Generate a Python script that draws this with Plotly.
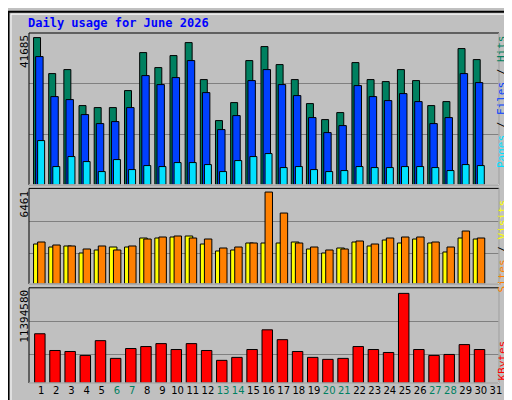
import plotly.graph_objects as go

days = list(range(1, 32))
hits_px = [88,196,184,292,298,298,247,133,178,142,103,214,337,283,157,115,169,214,286,334,313,163,214,220,184,217,292,280,121,154]
files_px = [145,265,274,319,346,340,298,202,229,208,157,253,364,322,217,184,229,262,328,373,352,232,265,277,256,280,346,328,196,223]
pages_px = [397,475,445,460,490,454,484,472,475,463,463,469,490,457,445,436,478,475,484,490,487,475,478,478,475,475,478,487,469,472]
visits_px = [184,193,190,211,202,193,193,166,166,163,160,184,205,202,181,181,181,178,199,211,196,178,190,172,181,169,181,208,166,169]
sites_px = [178,187,190,199,190,202,190,169,163,160,166,169,196,193,181,28,91,181,193,202,199,175,184,166,163,163,178,193,145,166]
kb_px = [451,502,505,517,472,526,496,490,481,499,481,502,532,523,499,439,469,505,523,529,526,490,499,508,328,499,517,514,484,499]

hits = [round((530 - y) / 442 * 41685) for y in hits_px]
files = [round((530 - y) / 442 * 41685) for y in files_px]
pages = [round((530 - y) / 442 * 41685) for y in pages_px]
visits = [round((304 - y) / 276 * 6461) for y in visits_px]
sites = [round((304 - y) / 276 * 6461) for y in sites_px]
kbytes = [round((601 - y) / 273 * 11394580) for y in kb_px]
weekends = {6, 7, 13, 14, 20, 21, 27, 28}

x = [d - 1 for d in days[:30]]
fig = go.Figure()
line = dict(color="black", width=1)

def bar(vals, off, w, color, ya):
    fig.add_bar(x=x, y=vals, offset=off, width=w, marker=dict(color=color, line=line),
                xaxis="x" if ya == "y" else "x" + ya[1:], yaxis=ya, showlegend=False, hoverinfo="skip")

bar(hits, 0.30, 0.46, "#008060", "y")
bar(files, 0.44, 0.49, "#0040FF", "y")
bar(pages, 0.57, 0.46, "#00E0FF", "y")
bar(visits, 0.30, 0.50, "#FFFF00", "y2")
bar(sites, 0.57, 0.49, "#FF8000", "y2")
bar(kbytes, 0.37, 0.69, "#FF0000", "y3")

tick_text = [f"<span style='color:{'#008060' if d in weekends else 'black'}'>{d}</span>" for d in days]
xcommon = dict(range=[0, 31], showgrid=False, zeroline=False, fixedrange=True)
fig.update_layout(
    width=512, height=400, margin=dict(l=21, r=21, t=25, b=22),
    paper_bgcolor="#C0C0C0", plot_bgcolor="#C0C0C0", barmode="overlay",
    font=dict(family="DejaVu Sans Mono", size=11, color="black"),
    xaxis=dict(**xcommon, anchor="y", showticklabels=False),
    xaxis2=dict(**xcommon, anchor="y2", matches="x", showticklabels=False),
    xaxis3=dict(**xcommon, anchor="y3", matches="x", tickmode="array",
                tickvals=[d - 0.2 for d in days], ticktext=tick_text, ticks="",
                tickangle=0, tickfont=dict(family="DejaVu Sans", size=10)),
    yaxis=dict(domain=[0.566, 1], range=[0, 41685 * 152 / 147.4],
               tickvals=[41685 * 152 / 147.4 / 3, 41685 * 152 / 147.4 * 2 / 3],
               showticklabels=False, gridcolor="#808080", zeroline=False, fixedrange=True),
    yaxis2=dict(domain=[0.283, 0.556], range=[0, 6461 * 287 / 276],
                tickvals=[6461 * 90 / 276, 6461 * 189 / 276],
                showticklabels=False, gridcolor="#808080", zeroline=False, fixedrange=True),
    yaxis3=dict(domain=[0, 0.272], range=[0, 11394580 * 290 / 273],
                tickvals=[11394580 * 87 / 273, 11394580 * 186 / 273],
                showticklabels=False, gridcolor="#808080", zeroline=False, fixedrange=True),
)

shapes = [
    dict(type="rect", xref="paper", yref="paper", x0=-20.5/470, x1=490.5/470, y0=-21.5/353, y1=374.5/353,
         line=dict(color="black", width=2)),
    dict(type="rect", xref="paper", yref="paper", x0=-18/470, x1=488/470, y0=-19/353, y1=372/353,
         line=dict(color="white", width=1)),
]
for dom in ([0.566, 1], [0.283, 0.556], [0, 0.272]):
    shapes.append(dict(type="rect", xref="paper", yref="paper", x0=0, x1=1, y0=dom[0], y1=dom[1],
                       line=dict(color="black", width=1)))
    shapes.append(dict(type="line", xref="paper", yref="paper", x0=0, x1=1, y0=dom[0], y1=dom[0],
                       line=dict(color="white", width=1)))
    shapes.append(dict(type="line", xref="paper", yref="paper", x0=1, x1=1, y0=dom[0], y1=dom[1],
                       line=dict(color="white", width=1)))
fig.update_layout(shapes=shapes)

ann = [
    dict(text="<b>Daily usage for June 2026</b>", x=-3/470, y=1 + 10/353, xanchor="left", yanchor="middle",
         font=dict(color="#0000FF", size=12, family="DejaVu Sans Mono"), showarrow=False),
    dict(text="41685", x=-13/470, y=1, textangle=-90, yanchor="top", showarrow=False, font=dict(size=11)),
    dict(text="6461", x=-13/470, y=0.556, textangle=-90, yanchor="top", showarrow=False, font=dict(size=11)),
    dict(text="11394580", x=-13/470, y=0.272, textangle=-90, yanchor="top", showarrow=False, font=dict(size=11)),
    dict(text="<span style='color:#00E0FF'>Pages</span> / <span style='color:#0040FF'>Files</span> / <span style='color:#008060'>Hits</span>",
         x=1 + 11/470, y=1, textangle=-90, yanchor="top", showarrow=False, font=dict(size=11)),
    dict(text="<span style='color:#FF8000'>Sites</span> / <span style='color:#FFFF00'>Visits</span>",
         x=1 + 11/470, y=0.53, textangle=-90, yanchor="top", showarrow=False, font=dict(size=11)),
    dict(text="<span style='color:#FF0000'>KBytes</span>",
         x=1 + 11/470, y=0.0, textangle=-90, yanchor="bottom", showarrow=False, font=dict(size=11)),
]
for a in ann:
    a.setdefault("xref", "paper"); a.setdefault("yref", "paper")
fig.update_layout(annotations=ann)

fig.write_html("out.html")
